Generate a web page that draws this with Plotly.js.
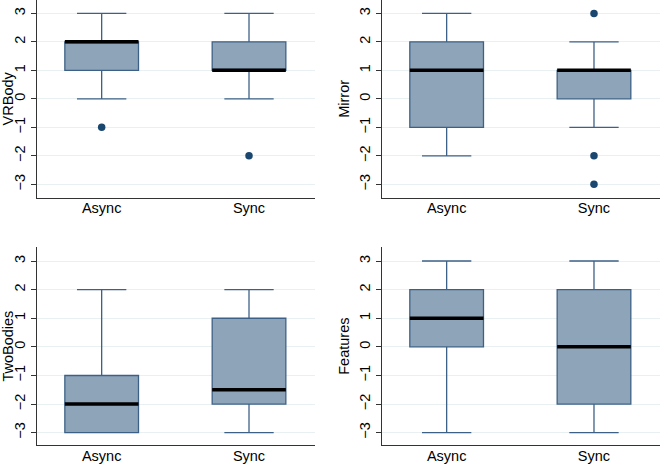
<!DOCTYPE html>
<html>
<head>
<meta charset="utf-8">
<script src="https://cdn.plot.ly/plotly-3.0.1.min.js"></script>
<style>html,body{margin:0;padding:0;background:#fff;}#chart{width:660px;height:464px;}</style>
</head>
<body>
<div id="chart"></div>
<script>
const categories = ['Async', 'Sync'];
const panelNames = ['VRBody', 'Mirror', 'TwoBodies', 'Features'];

const vrbodyQ1 = [1, 1];
const vrbodyMedian = [2, 1];
const vrbodyQ3 = [2, 2];
const vrbodyLower = [0, 0];
const vrbodyUpper = [3, 3];
const vrbodyOutX = ['Async', 'Sync'];
const vrbodyOutY = [-1, -2];

const mirrorQ1 = [-1, 0];
const mirrorMedian = [1, 1];
const mirrorQ3 = [2, 1];
const mirrorLower = [-2, -1];
const mirrorUpper = [3, 2];
const mirrorOutX = ['Sync', 'Sync', 'Sync'];
const mirrorOutY = [3, -2, -3];

const twobodiesQ1 = [-3, -2];
const twobodiesMedian = [-2, -1.5];
const twobodiesQ3 = [-1, 1];
const twobodiesLower = [-3, -3];
const twobodiesUpper = [2, 2];
const twobodiesOutX = [];
const twobodiesOutY = [];

const featuresQ1 = [0, -2];
const featuresMedian = [1, 0];
const featuresQ3 = [2, 2];
const featuresLower = [-3, -3];
const featuresUpper = [3, 3];
const featuresOutX = [];
const featuresOutY = [];

const yTicks = [-3, -2, -1, 0, 1, 2, 3];

const panels = [
  {q1: vrbodyQ1, med: vrbodyMedian, q3: vrbodyQ3, lo: vrbodyLower, hi: vrbodyUpper, ox: vrbodyOutX, oy: vrbodyOutY},
  {q1: mirrorQ1, med: mirrorMedian, q3: mirrorQ3, lo: mirrorLower, hi: mirrorUpper, ox: mirrorOutX, oy: mirrorOutY},
  {q1: twobodiesQ1, med: twobodiesMedian, q3: twobodiesQ3, lo: twobodiesLower, hi: twobodiesUpper, ox: twobodiesOutX, oy: twobodiesOutY},
  {q1: featuresQ1, med: featuresMedian, q3: featuresQ3, lo: featuresLower, hi: featuresUpper, ox: featuresOutX, oy: featuresOutY}
];

const FILL = '#8ea4b8';
const EDGE = '#3d6186';
const DOT = '#1a476f';
const GRID = '#e8f0f2';
const FONT = {family: 'Liberation Sans, Arial, Helvetica, sans-serif', size: 14.5, color: '#000'};

const traces = [];
panels.forEach((p, i) => {
  const xa = i === 0 ? 'x' : 'x' + (i + 1);
  const ya = i === 0 ? 'y' : 'y' + (i + 1);
  traces.push({
    type: 'box', x: categories, q1: p.q1, median: p.med, q3: p.q3,
    lowerfence: p.lo, upperfence: p.hi,
    xaxis: xa, yaxis: ya, width: 0.5, whiskerwidth: 0.67,
    fillcolor: FILL, line: {color: EDGE, width: 1.3},
    boxpoints: false, hoverinfo: 'skip', showlegend: false
  });
  traces.push({
    type: 'box', x: categories, q1: p.med, median: p.med, q3: p.med,
    lowerfence: p.med, upperfence: p.med,
    xaxis: xa, yaxis: ya, width: 0.5, whiskerwidth: 0,
    fillcolor: 'rgba(0,0,0,0)', line: {color: '#000', width: 3.5},
    boxpoints: false, hoverinfo: 'skip', showlegend: false
  });
  traces.push({
    type: 'scatter', mode: 'markers', x: p.ox, y: p.oy,
    xaxis: xa, yaxis: ya,
    marker: {color: DOT, size: 7.5},
    hoverinfo: 'skip', showlegend: false
  });
});

const xDomains = [[0.0556, 0.4773], [0.5783, 1.0], [0.0556, 0.4773], [0.5783, 1.0]];
const yDomains = [[0.574, 1.0], [0.574, 1.0], [0.0403, 0.4677], [0.0403, 0.4677]];
const yRanges = [[-3.47, 3.47], [-3.47, 3.47], [-3.44, 3.49], [-3.44, 3.49]];

const layout = {
  width: 660, height: 464,
  margin: {l: 0, r: 0, t: 0, b: 0},
  paper_bgcolor: '#fff', plot_bgcolor: '#fff',
  font: FONT,
  boxmode: 'overlay',
  showlegend: false
};

panels.forEach((p, i) => {
  const sx = i === 0 ? '' : String(i + 1);
  layout['xaxis' + sx] = {
    domain: xDomains[i], anchor: 'y' + sx,
    type: 'category', categoryorder: 'array', categoryarray: categories,
    range: [-0.441, 1.448],
    showline: true, linecolor: '#333', linewidth: 1,
    showgrid: false, zeroline: false, ticks: '',
    ticklabelstandoff: -3,
    tickfont: FONT, fixedrange: true
  };
  layout['yaxis' + sx] = {
    domain: yDomains[i], anchor: 'x' + sx,
    range: yRanges[i], tickvals: yTicks,
    tickangle: -90, ticks: 'outside', ticklen: 5, tickcolor: '#333', tickwidth: 1,
    showline: true, linecolor: '#333', linewidth: 1,
    showgrid: true, gridcolor: GRID, gridwidth: 1, zeroline: false,
    tickfont: FONT, fixedrange: true,
    title: {text: panelNames[i], font: FONT, standoff: 3}
  };
});

Plotly.newPlot('chart', traces, layout, {staticPlot: true, displayModeBar: false});
</script>
</body>
</html>
